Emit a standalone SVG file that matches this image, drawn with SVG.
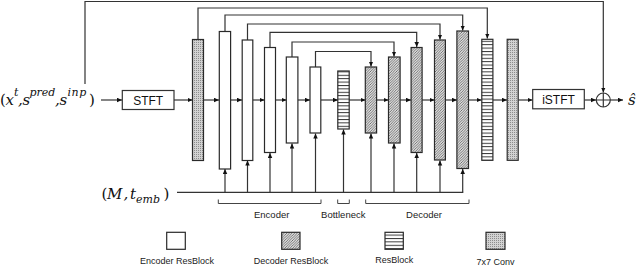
<svg xmlns="http://www.w3.org/2000/svg" width="640" height="265" viewBox="0 0 640 265">
<defs>
<marker id="ah" markerWidth="6" markerHeight="5" refX="5" refY="2.25" orient="auto" markerUnits="userSpaceOnUse"><path d="M0,0 L5,2.25 L0,4.5 z" fill="#111"/></marker>
<pattern id="hatch" width="2.6" height="2.6" patternUnits="userSpaceOnUse"><rect width="2.6" height="2.6" fill="#dcdcdc"/><path d="M-0.65,0.65 L0.65,-0.65 M0,2.6 L2.6,0 M1.95,3.25 L3.25,1.95" stroke="#555" stroke-width="0.75"/></pattern>
<pattern id="hlines" width="10" height="3.4" patternUnits="userSpaceOnUse"><rect width="10" height="3.4" fill="#fff"/><line x1="0" y1="0.5" x2="10" y2="0.5" stroke="#222" stroke-width="0.9"/></pattern>
<pattern id="dots" width="2" height="2" patternUnits="userSpaceOnUse"><rect width="2" height="2" fill="#d2d2d2"/><rect width="1" height="1" fill="#8c8c8c"/></pattern>
</defs>
<style>
.blk{stroke:#2a2a2a;stroke-width:1.2}
.enc{fill:#fff}
.dec{fill:url(#hatch)}
.res{fill:url(#hlines)}
.conv{fill:url(#dots)}
.ln{fill:none;stroke:#333;stroke-width:1.2}
.arr{marker-end:url(#ah)}
.br{fill:none;stroke:#444;stroke-width:1}
.lbl{font-family:"Liberation Sans",Arial,sans-serif;font-size:9.5px;fill:#222;text-anchor:middle}
.leg{font-family:"Liberation Sans",Arial,sans-serif;font-size:9px;fill:#222;text-anchor:middle}
.math{font-family:"DejaVu Serif",serif;font-style:italic;fill:#111}
.up{font-style:normal}
.box{fill:#fff;stroke:#333;stroke-width:1.2}
.boxt{font-family:"Liberation Sans",Arial,sans-serif;font-size:12px;fill:#111;text-anchor:middle}
</style>

<g id="connectors">
  <path class="ln arr" d="M85,84 V1.5 H603.3 V92.5"/>
  <path class="ln arr" d="M198,39.5 V8 H487.3 V38.5"/>
  <path class="ln arr" d="M225,31.5 V15 H462.7 V30.5"/>
  <path class="ln arr" d="M247.5,40 V24 H440 V39.5"/>
  <path class="ln arr" d="M270,47.5 V32.3 H416.7 V47"/>
  <path class="ln arr" d="M292,57 V42 H394 V56.5"/>
  <path class="ln arr" d="M315.5,67 V51.5 H371 V66.5"/>
  <line class="ln arr" x1="101" y1="100" x2="122" y2="100"/>
  <line class="ln arr" x1="174" y1="100" x2="192.5" y2="100"/>
  <line class="ln arr" x1="203.5" y1="100" x2="219" y2="100"/>
  <line class="ln arr" x1="230.5" y1="100" x2="242" y2="100"/>
  <line class="ln arr" x1="253" y1="100" x2="264.5" y2="100"/>
  <line class="ln arr" x1="275.5" y1="100" x2="286.5" y2="100"/>
  <line class="ln arr" x1="297.5" y1="100" x2="310" y2="100"/>
  <line class="ln arr" x1="321" y1="100" x2="338" y2="100"/>
  <line class="ln arr" x1="349" y1="100" x2="365.5" y2="100"/>
  <line class="ln arr" x1="376.5" y1="100" x2="388.5" y2="100"/>
  <line class="ln arr" x1="399.5" y1="100" x2="411" y2="100"/>
  <line class="ln arr" x1="422" y1="100" x2="434.5" y2="100"/>
  <line class="ln arr" x1="445.5" y1="100" x2="457" y2="100"/>
  <line class="ln arr" x1="468.5" y1="100" x2="481.5" y2="100"/>
  <line class="ln arr" x1="493" y1="100" x2="507" y2="100"/>
  <line class="ln arr" x1="518.3" y1="100" x2="532.5" y2="100"/>
  <line class="ln arr" x1="584.3" y1="100" x2="596" y2="100"/>
  <line class="ln arr" x1="610.3" y1="100" x2="623" y2="100"/>
  <line class="ln" x1="177" y1="192.3" x2="463.3" y2="192.3"/>
  <line class="ln arr" x1="225" y1="192.3" x2="225" y2="169"/>
  <line class="ln arr" x1="247.5" y1="192.3" x2="247.5" y2="160.5"/>
  <line class="ln arr" x1="270" y1="192.3" x2="270" y2="153"/>
  <line class="ln arr" x1="292" y1="192.3" x2="292" y2="143.5"/>
  <line class="ln arr" x1="315.5" y1="192.3" x2="315.5" y2="133.5"/>
  <line class="ln arr" x1="343.5" y1="192.3" x2="343.5" y2="129.5"/>
  <line class="ln arr" x1="371" y1="192.3" x2="371" y2="133.5"/>
  <line class="ln arr" x1="394" y1="192.3" x2="394" y2="143.5"/>
  <line class="ln arr" x1="416.7" y1="192.3" x2="416.7" y2="153"/>
  <line class="ln arr" x1="440" y1="192.3" x2="440" y2="160.5"/>
  <line class="ln arr" x1="462.7" y1="192.3" x2="462.7" y2="169"/>
</g>

<g id="input">
  <text class="math" y="105" font-size="15"><tspan class="up" x="0">(</tspan><tspan x="5.5">x</tspan><tspan x="14" y="96" font-size="11">t</tspan><tspan x="18" y="105">,</tspan><tspan x="22.5">s</tspan><tspan x="29.5" y="96" font-size="11">pred</tspan><tspan x="55" y="105">,</tspan><tspan x="59.5">s</tspan><tspan x="67.5" y="96" font-size="11" letter-spacing="0.6">inp</tspan><tspan class="up" x="89" y="105">)</tspan></text>
</g>
<g id="stft"><rect class="box" x="122.3" y="90.5" width="51.7" height="19"/><text class="boxt" x="148.2" y="104.5">STFT</text></g>
<g id="conv_in"><rect class="blk conv" x="192.5" y="39.5" width="11" height="121"/></g>
<g id="enc1"><rect class="blk enc" x="219.3" y="31.5" width="11.3" height="137.5"/></g>
<g id="enc2"><rect class="blk enc" x="242.2" y="40" width="10.6" height="120.5"/></g>
<g id="enc3"><rect class="blk enc" x="264.5" y="47.5" width="11" height="105"/></g>
<g id="enc4"><rect class="blk enc" x="286.3" y="57" width="11.6" height="86"/></g>
<g id="enc5"><rect class="blk enc" x="310" y="67" width="10.8" height="66"/></g>
<g id="bottleneck"><rect class="blk res" x="337.8" y="71" width="11.4" height="58"/></g>
<g id="dec1"><rect class="blk dec" x="365.3" y="67" width="11.3" height="66"/></g>
<g id="dec2"><rect class="blk dec" x="388.5" y="57" width="11.6" height="86"/></g>
<g id="dec3"><rect class="blk dec" x="411.1" y="47.5" width="11" height="105"/></g>
<g id="dec4"><rect class="blk dec" x="434.5" y="40" width="10.9" height="120"/></g>
<g id="dec5"><rect class="blk dec" x="456.9" y="31" width="11.6" height="137.5"/></g>
<g id="resblock"><rect class="blk res" x="481.8" y="39.3" width="11.1" height="121"/></g>
<g id="conv_out"><rect class="blk conv" x="507.2" y="39.3" width="11" height="121"/></g>
<g id="istft"><rect class="box" x="532.7" y="89.5" width="51.6" height="19.3"/><text class="boxt" x="558.5" y="104">iSTFT</text></g>
<g id="add"><circle cx="603.3" cy="100" r="7" fill="#fff" stroke="#333" stroke-width="1.2"/><path d="M596.3,100 H610.3 M603.3,93 V107" stroke="#333" stroke-width="1.2"/></g>
<g id="output"><text class="math" x="628" y="105" font-size="15">ŝ</text></g>
<g id="cond">
  <text class="math" y="199" font-size="15"><tspan class="up" x="101.5">(</tspan><tspan x="107">M</tspan><tspan x="123.5">,</tspan><tspan x="130">t</tspan><tspan x="136" y="202.5" font-size="11">emb</tspan><tspan class="up" x="163.5" y="199">)</tspan></text>
</g>
<g id="brackets">
  <path class="br" d="M218.3,199.5 V203.5 H321 V199.5"/>
  <path class="br" d="M337.7,199.5 V203.5 H349.3 V199.5"/>
  <path class="br" d="M365.7,199.5 V203.5 H469 V199.5"/>
  <text class="lbl" x="271.7" y="217.5">Encoder</text>
  <text class="lbl" x="343.3" y="217.5">Bottleneck</text>
  <text class="lbl" x="424" y="217.5">Decoder</text>
</g>
<g id="legend">
  <rect class="blk enc" x="166.7" y="232.3" width="18.6" height="17"/>
  <text class="leg" x="177" y="263.5">Encoder ResBlock</text>
  <rect class="blk dec" x="281.7" y="232.3" width="18.3" height="17"/>
  <text class="leg" x="291" y="263.5">Decoder ResBlock</text>
  <rect class="blk res" x="385" y="232.3" width="18.3" height="17"/>
  <text class="leg" x="394.3" y="263">ResBlock</text>
  <rect class="blk conv" x="486" y="232.3" width="19" height="17"/>
  <text class="leg" x="495.5" y="264.5">7x7 Conv</text>
</g>
</svg>
